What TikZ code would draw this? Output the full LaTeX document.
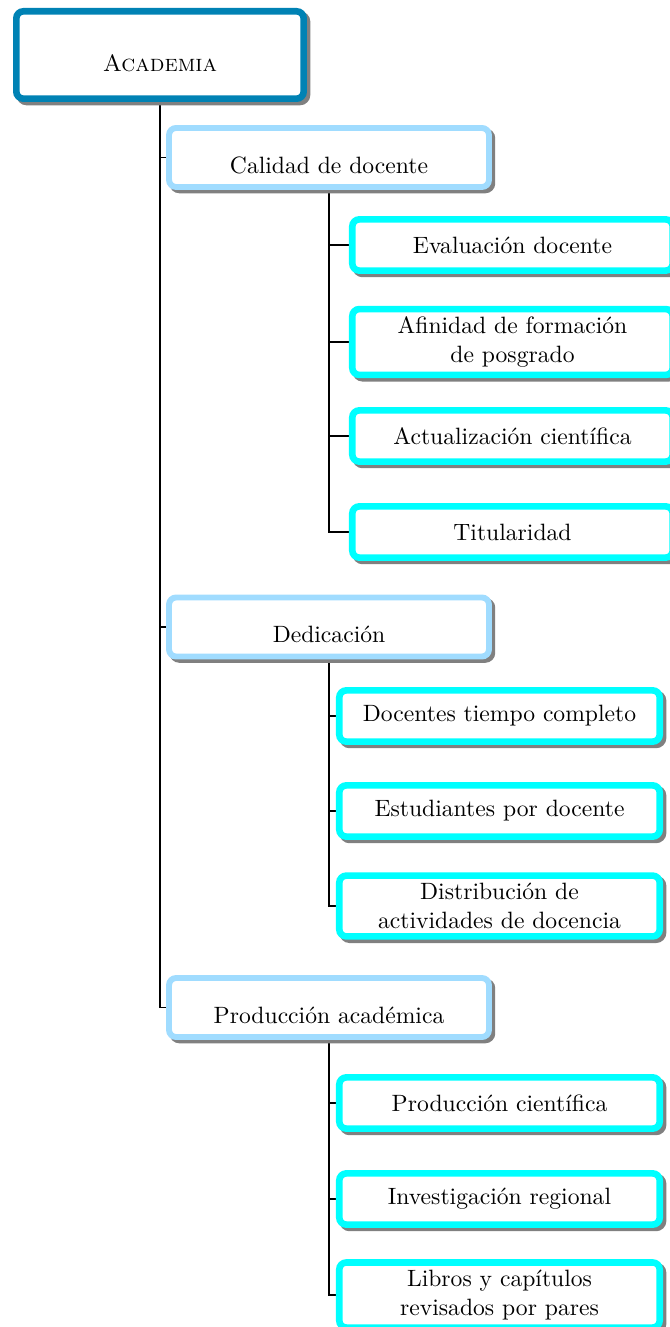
\documentclass[tikz,border=0pt]{standalone}
\usetikzlibrary{backgrounds}
\definecolor{rootblue}{RGB}{0,130,180}
\definecolor{lvltwo}{RGB}{160,220,255}
\definecolor{lvlthree}{RGB}{0,255,255}
\definecolor{shadowgray}{RGB}{128,128,128}
\tikzset{
  boxbase/.style={draw, fill=white, rounded corners=3pt, align=center, inner sep=3.33pt},
  shadowed/.style={preaction={draw=shadowgray, fill=shadowgray, line width=#1,
      transform canvas={xshift=1.4pt, yshift=-1.4pt}}},
  rootbox/.style={boxbase, shadowed=2.8pt, draw=rootblue, line width=2.8pt,
      minimum width=121.7pt, minimum height=37pt, text height=13.6pt, text depth=0pt},
  midbox/.style={boxbase, shadowed=2.5pt, draw=lvltwo, line width=2.5pt,
      minimum width=135.5pt, minimum height=25pt, text height=13.3pt, text depth=0pt},
  leafbox/.style={boxbase, shadowed=2.8pt, draw=lvlthree, line width=2.8pt,
      minimum width=135.7pt, minimum height=21.7pt},
  link/.style={draw=black, line width=0.8pt}
}
\begin{document}
\begin{tikzpicture}[x=0.4235pt, y=-0.4235pt]
\useasboundingbox (0,0) rectangle (669,1327);
% root
\node[rootbox] (root) at (160,55) {\textsc{Academia}};
% level 2
\node[midbox] (cal) at (329,157.5) {Calidad de docente};
\node[midbox] (ded) at (329,627) {Dedicación};
\node[midbox] (pro) at (329,1007.5) {Producción académica};
% level 3 under Calidad
\node[leafbox] (eva) at (512.5,245) {Evaluación docente};
\node[leafbox] (afi) at (512.5,342) {Afinidad de formación\\de posgrado};
\node[leafbox] (act) at (512.5,436) {Actualización científica};
\node[leafbox] (tit) at (512.5,532) {Titularidad};
% level 3 under Dedicacion
\node[leafbox] (doc) at (499.5,716) {Docentes tiempo completo};
\node[leafbox] (est) at (499.5,811) {Estudiantes por docente};
\node[leafbox] (dis) at (499.5,906) {Distribución de\\actividades de docencia};
% level 3 under Produccion
\node[leafbox] (pci) at (499.5,1103) {Producción científica};
\node[leafbox] (inv) at (499.5,1199) {Investigación regional};
\node[leafbox] (lib) at (499.5,1295) {Libros y capítulos\\revisados por pares};
\begin{pgfonlayer}{background}
\path[link] (root.south) |- (cal.west);
\path[link] (root.south) |- (ded.west);
\path[link] (root.south) |- (pro.west);
\path[link] (cal.south) |- (eva.west);
\path[link] (cal.south) |- (afi.west);
\path[link] (cal.south) |- (act.west);
\path[link] (cal.south) |- (tit.west);
\path[link] (ded.south) |- (doc.west);
\path[link] (ded.south) |- (est.west);
\path[link] (ded.south) |- (dis.west);
\path[link] (pro.south) |- (pci.west);
\path[link] (pro.south) |- (inv.west);
\path[link] (pro.south) |- (lib.west);
\end{pgfonlayer}
\end{tikzpicture}
\end{document}
